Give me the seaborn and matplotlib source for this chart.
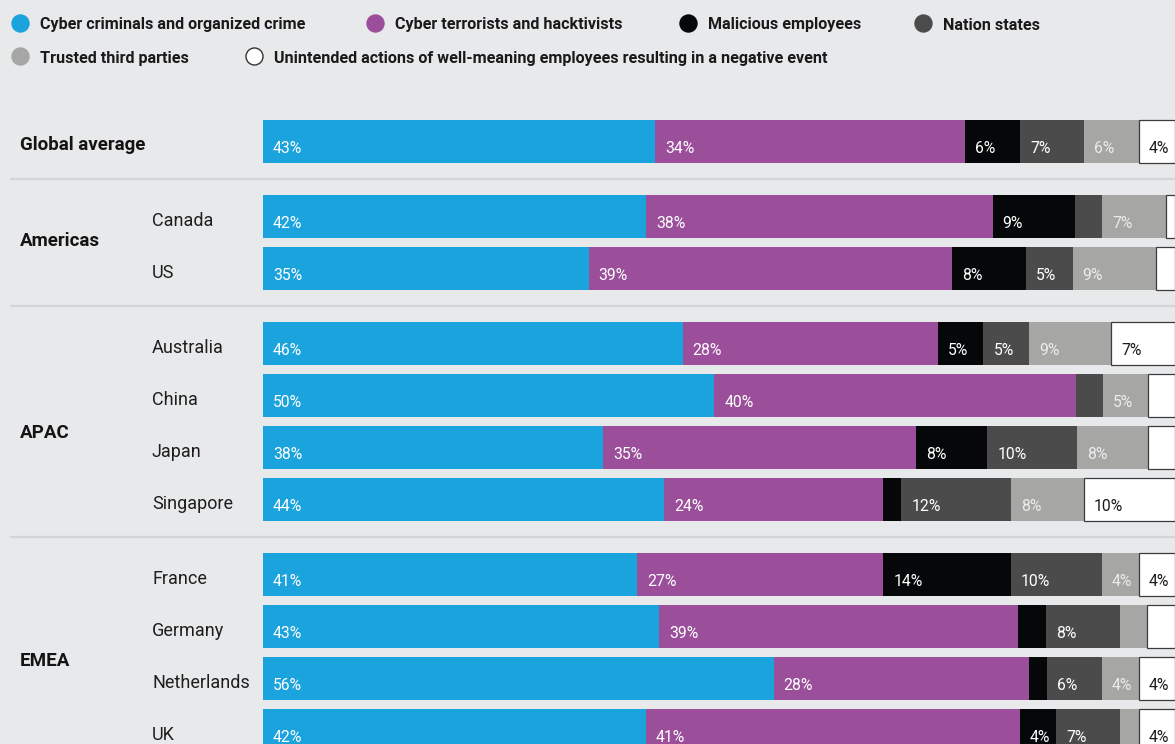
import matplotlib
matplotlib.use("Agg")
import matplotlib.pyplot as plt
import matplotlib.transforms as mtransforms
import numpy as np
import pandas as pd
import seaborn as sns

# ---------------------------------------------------------------- data
row_labels = ["Global average", "Canada", "US", "Australia", "China", "Japan",
              "Singapore", "France", "Germany", "Netherlands", "UK"]
row_groups = ["Global average", "Americas", "Americas", "APAC", "APAC", "APAC",
              "APAC", "EMEA", "EMEA", "EMEA", "EMEA"]

sources = [
    "Cyber criminals and organized crime",
    "Cyber terrorists and hacktivists",
    "Malicious employees",
    "Nation states",
    "Trusted third parties",
    "Unintended actions of well-meaning employees resulting in a negative event",
]

criminals = [43, 42, 35, 46, 50, 38, 44, 41, 43, 56, 42]
terrorists = [34, 38, 39, 28, 40, 35, 24, 27, 39, 28, 41]
malicious = [6, 9, 8, 5, 0, 8, 2, 14, 3, 2, 4]
nation_states = [7, 3, 5, 5, 3, 10, 12, 10, 8, 6, 7]
third_parties = [6, 7, 9, 9, 5, 8, 8, 4, 3, 4, 2]
unintended = [4, 1, 2, 7, 3, 3, 10, 4, 3, 4, 4]

source_colors = ["#1aa3dc", "#9b4f9b", "#050709", "#4b4b4b", "#a6a6a4", "#ffffff"]
label_colors = ["#ffffff", "#ffffff", "#ffffff", "#ffffff", "#ececec", "#1c1c1c"]

# -------------------------------------------------------------- layout
W, H, DPI = 1175, 744, 100
BG = "#e8e9eb"
GROUP_GAP = 0.44          # extra space between region blocks (in row units)
BAR_WIDTH = 0.827         # bar thickness relative to row pitch
MIN_LABEL = 4             # segments smaller than this stay unlabelled

sns.set_theme(style="white")
plt.rcParams["font.family"] = ["Roboto", "DejaVu Sans"]

group_order = list(dict.fromkeys(row_groups))
group_idx = np.array([group_order.index(g) for g in row_groups])
positions = np.arange(len(row_labels)) + GROUP_GAP * group_idx

values = np.array([criminals, terrorists, malicious, nation_states,
                   third_parties, unintended], dtype=float)
shares = values / values.sum(axis=0) * 100
lefts = np.vstack([np.zeros(len(row_labels)), np.cumsum(shares, axis=0)[:-1]])

fig = plt.figure(figsize=(W / DPI, H / DPI), dpi=DPI, facecolor=BG)
ax = fig.add_axes([263 / W, 0, 912 / W, 654 / H])
ax.set_facecolor("none")

for i, src in enumerate(sources):
    df = pd.DataFrame({"pos": positions, "share": shares[i]})
    is_white = source_colors[i] == "#ffffff"
    sns.barplot(data=df, x="share", y="pos", orient="y", native_scale=True,
                color=source_colors[i], saturation=1, width=BAR_WIDTH,
                errorbar=None, left=lefts[i], ax=ax,
                edgecolor="#3c3c3c" if is_white else "none",
                linewidth=0.9 if is_white else 0)

# segment value labels
for i in range(len(sources)):
    for r in range(len(row_labels)):
        v = values[i, r]
        if v >= MIN_LABEL:
            ax.annotate(f"{int(v)}%", xy=(lefts[i, r], positions[r]),
                        xytext=(7.2, -8.6), textcoords="offset points",
                        ha="left", va="baseline", fontsize=11.3,
                        color=label_colors[i])

ax.set_xlim(0, 100)
ax.set_ylim((744 - 141.5) / 52, (90 - 141.5) / 52)
ax.axis("off")

# overlay in pixel coordinates for legend, row labels and rules
lax = fig.add_axes([0, 0, 1, 1])
lax.set_xlim(0, W)
lax.set_ylim(H, 0)
lax.axis("off")
blend = mtransforms.blended_transform_factory(lax.transData, ax.transData)

# legend
legend_slots = [(20, 23), (375, 23), (688, 23), (923, 23), (20, 56), (254, 56)]
for (x, y), name, col in zip(legend_slots, sources, source_colors):
    lax.scatter([x], [y], s=150, color=col,
                edgecolor="#333333" if col == "#ffffff" else col,
                linewidth=1.0, zorder=3)
    lax.text(x + 20, y + 6.5, name, fontsize=11.6, fontweight="bold",
             color="#1a1a1a", ha="left", va="baseline")

# row labels
for r, (name, grp) in enumerate(zip(row_labels, row_groups)):
    if name == grp:
        lax.text(20, positions[r] + 0.163, name, transform=blend,
                 fontsize=13.5, fontweight="bold", color="#141414",
                 ha="left", va="baseline")
    else:
        lax.text(152, positions[r] + 0.185, name, transform=blend,
                 fontsize=13, color="#1e1e1e", ha="left", va="baseline")

# region labels
group_label_shift = {"Americas": 0.06, "APAC": 0.33, "EMEA": 0.26}
for grp, shift in group_label_shift.items():
    rows = positions[np.array(row_groups) == grp]
    lax.text(20, rows.mean() + shift, grp, transform=blend,
             fontsize=13.5, fontweight="bold", color="#141414",
             ha="left", va="baseline")

# rules between regions
for r in range(1, len(row_labels)):
    if row_groups[r] != row_groups[r - 1]:
        y = (positions[r - 1] + positions[r]) / 2
        lax.plot([10, W], [y, y], transform=blend, color="#d4d5d7",
                 linewidth=1.6, solid_capstyle="butt")

fig.savefig("out.png", dpi=DPI, facecolor=BG)
